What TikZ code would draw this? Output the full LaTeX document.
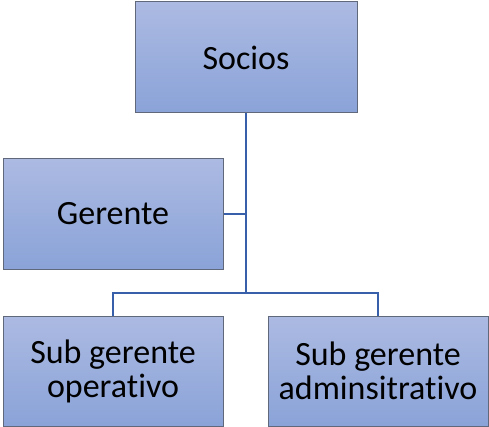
\documentclass[tikz,border=0pt]{standalone}
\usepackage{fontspec}
\setmainfont[Ligatures=NoCommon]{Carlito}
\usetikzlibrary{positioning}
\definecolor{boxtop}{RGB}{172,186,226}
\definecolor{boxbot}{RGB}{138,163,216}
\definecolor{boxline}{RGB}{96,104,124}
\definecolor{linkblue}{RGB}{55,95,170}
\begin{document}
\begin{tikzpicture}[x=1pt,y=-1pt,
  orgbox/.style={draw=boxline, line width=1pt, top color=boxtop, bottom color=boxbot,
    minimum width=220pt, minimum height=110pt, align=center, inner sep=0pt,
    font=\fontsize{34}{34}\selectfont},
  link/.style={draw=linkblue, line width=2.4pt}]
\useasboundingbox (0,0) rectangle (489,427);
\node[orgbox, minimum width=222pt, minimum height=111pt] (socios) at (246,57.5) {Socios};
\node[orgbox] (gerente) at (113,214) {Gerente};
\node[orgbox] (oper) at (113,371) {Sub gerente\\operativo};
\node[orgbox] (admin) at (378,371) {Sub gerente\\adminsitrativo};
\coordinate (hub) at (246,293);
\draw[link] (socios.south) -- (hub);
\draw[link] (gerente.east) -- (gerente.east -| hub);
\draw[link] (oper.north) |- (hub) -| (admin.north);
\end{tikzpicture}
\end{document}
